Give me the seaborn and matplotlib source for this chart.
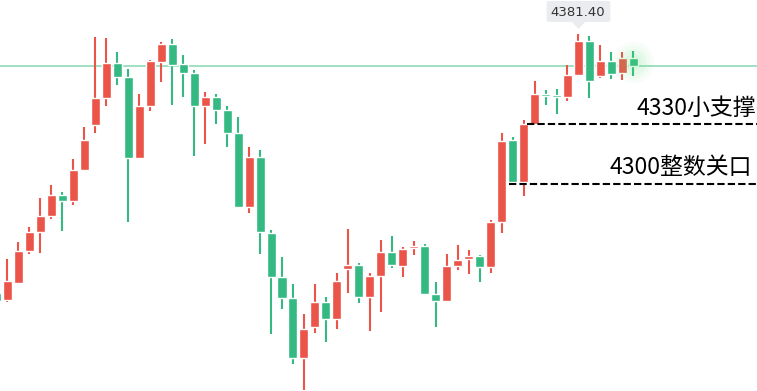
import numpy as np
import pandas as pd
import matplotlib
matplotlib.use('Agg')
import matplotlib.pyplot as plt
import seaborn as sns
from matplotlib.patches import FancyBboxPatch, Polygon

sns.set_style('white')
plt.rcParams['font.family'] = ['Noto Sans CJK SC', 'DejaVu Sans']

# candle data (index -1 is cut off at the left edge)
opens = [4245.5, 4242, 4250.5, 4266.5, 4276, 4284, 4294.5, 4291.5, 4307, 4329.5,
         4343, 4360.5, 4353.5, 4313, 4339, 4361, 4370, 4360, 4355.5, 4339,
         4343.5, 4337, 4325.5, 4288.5, 4313.5, 4275.5, 4253.5, 4243, 4213, 4228.5,
         4241, 4232.5, 4257.5, 4259.5, 4243.5, 4254, 4266, 4259, 4268, 4269,
         4245, 4241.5, 4259, 4262.5, 4264, 4258.5, 4281, 4322, 4301, 4330,
         4345, 4344, 4343.5, 4354.5, 4371.5, 4354, 4361.5, 4355.5, 4363]
highs = [4247, 4262.5, 4271, 4278.5, 4293, 4299.5, 4296, 4312.5, 4328.5, 4373.5,
         4373, 4366, 4357.5, 4345, 4362, 4371, 4372.5, 4364.5, 4357, 4346,
         4345, 4339, 4333.5, 4318.5, 4317, 4277, 4263.5, 4250, 4235, 4250,
         4243.5, 4255.5, 4277.5, 4260.5, 4255.5, 4272, 4274, 4268.5, 4271.5, 4270,
         4251, 4265, 4269.5, 4267, 4264.5, 4282, 4325.5, 4323.5, 4332, 4351.5,
         4347, 4347.5, 4359.5, 4375, 4374, 4369.5, 4366, 4366, 4366.5]
lows = [4240.5, 4241, 4250.5, 4265, 4265.5, 4282.5, 4276.5, 4289.5, 4307, 4325.5,
        4339, 4349.5, 4281, 4312.5, 4336.5, 4351, 4339.5, 4343.5, 4314, 4320,
        4330, 4318.5, 4288.5, 4285.5, 4265, 4225, 4237.5, 4210, 4197, 4225.5,
        4221, 4227.5, 4245.5, 4240.5, 4226.5, 4236, 4258, 4253.5, 4264.5, 4245,
        4228.5, 4241, 4257, 4255, 4251, 4255.5, 4275.5, 4300.5, 4294, 4330,
        4339.5, 4335, 4341.5, 4354.5, 4343, 4353, 4352.5, 4352, 4354]
closes = [4241.5, 4251.5, 4266.5, 4276, 4284, 4294.5, 4291.5, 4307, 4322, 4343,
          4360.5, 4353.5, 4313, 4339, 4361.5, 4370, 4359.5, 4355.5, 4339, 4343.5,
          4337, 4325.5, 4288.5, 4313.5, 4276, 4253.5, 4243, 4213, 4227.5, 4241,
          4232.5, 4251.5, 4259.5, 4243.5, 4254, 4266, 4259.5, 4267.5, 4269, 4245,
          4241.5, 4259, 4262, 4264, 4258.5, 4281, 4321.5, 4301, 4330, 4345,
          4344, 4343.5, 4354.5, 4371.5, 4351.5, 4361.5, 4355, 4363, 4359]

ref_price = 4359          # thin green horizontal line
support_prices = [4330, 4300]
support_labels = ['4330小支撑', '4300整数关口']
support_start = [47.3, 45.7]
tooltip_text = '4381.40'

df = pd.DataFrame({'open': opens, 'high': highs, 'low': lows, 'close': closes})
df['idx'] = np.arange(len(df)) - 1
df['up'] = df['close'] >= df['open']

red = '#ea5449'
green = '#34b982'
df['color'] = np.where(df['up'], red, green)

fig = plt.figure(figsize=(7.57, 3.91), dpi=100)
ax = fig.add_axes([0, 0, 1, 1])

# wicks
ax.vlines(df['idx'], df['low'], df['high'], colors=df['color'], linewidth=1.5, zorder=2)
# bodies
bottom = df[['open', 'close']].min(axis=1)
height = (df['open'] - df['close']).abs().clip(lower=0.9)
ax.bar(df['idx'], height, bottom=bottom, width=0.82, color=df['color'], zorder=3)

# reference line
ax.axhline(ref_price, color='#8fdcb5', linewidth=1.2, zorder=1)

# glow on the last candle
last = df.iloc[-1]
for s, a in [(900, 0.04), (600, 0.05), (350, 0.07), (150, 0.08)]:
    ax.scatter(last['idx'], 4361, s=s, color='#5ee07a', alpha=a, linewidths=0, zorder=4)

# support lines and labels
for p, lab, x0 in zip(support_prices, support_labels, support_start):
    ax.plot([x0, 70], [p, p], color='black', linestyle=(0, (3.5, 1.5)), linewidth=1.5, zorder=5)
ax.text(756 / 10.98 - 0.68, 4332, support_labels[0], ha='right', va='bottom', fontsize=16.5, color='black')
ax.text(752 / 10.98 - 0.68, 4302.5, support_labels[1], ha='right', va='bottom', fontsize=16.5, color='black')

ax.set_xlim(-0.683, 68.26)
ax.set_ylim(4196.5, 4392)

# tooltip for the high
hi = df.loc[df['high'].idxmax()]
bx = hi['idx']
box = FancyBboxPatch((bx - 2.9, 4381), 5.8, 10.5, boxstyle='round,pad=0,rounding_size=0.3',
                     facecolor='#eaecef', edgecolor='none', zorder=6, mutation_aspect=2)
ax.add_patch(box)
ax.add_patch(Polygon([[bx - 0.6, 4381], [bx + 0.6, 4381], [bx, 4377.5]], closed=True,
                     facecolor='#eaecef', edgecolor='none', zorder=6))
ax.text(bx - 0.1, 4386, tooltip_text, ha='center', va='center', fontsize=9.5,
        color='#333333', family=['DejaVu Sans'], zorder=7)

ax.axis('off')
fig.savefig('out.png', dpi=100)
